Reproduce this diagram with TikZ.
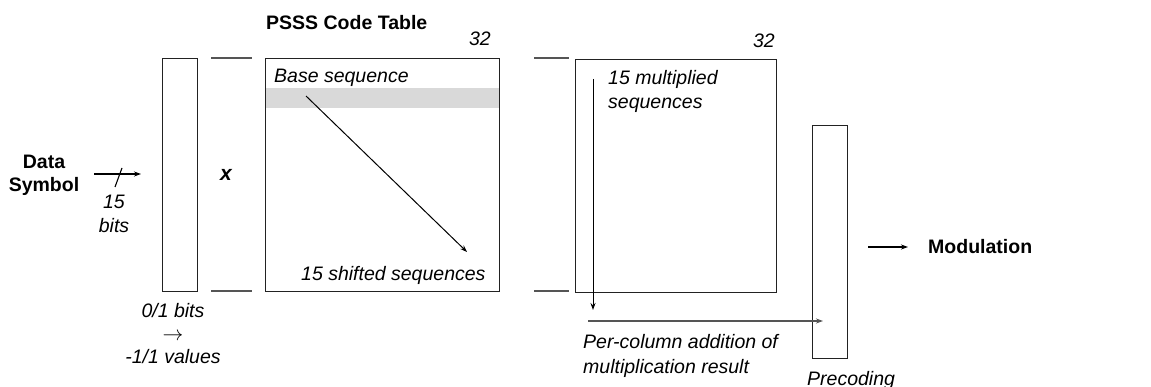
\documentclass[tikz,border=0pt]{standalone}
\usepackage{fontspec}
\setmainfont{Liberation Sans}
\usetikzlibrary{arrows.meta, positioning}
\tikzset{>={Stealth[length=7pt, width=5pt]}}
\definecolor{boxgray}{HTML}{222222}
\definecolor{linegray}{HTML}{555555}
\definecolor{bandgray}{HTML}{D9D9D9}

\begin{document}
\begin{tikzpicture}[x=1pt, y=-1pt,
	blk/.style={draw=boxgray, line width=1.2pt, inner sep=0pt, anchor=north west},
	brk/.style={draw=linegray, line width=1.4pt},
	lbl/.style={font=\fontsize{19.5}{24}\selectfont\itshape, align=left, inner sep=0pt},
	ttl/.style={font=\fontsize{19.5}{23}\selectfont\bfseries, align=center, inner sep=0pt}]
	\useasboundingbox (0,0) rectangle (1151,387);
	% boxes
	\fill [bandgray] (265,88) rectangle (499,108);
	\node [blk, minimum width=35pt, minimum height=233pt] (bits) at (162,58) {};
	\node [blk, minimum width=234pt, minimum height=233pt] (codetable) at (265,58) {};
	\node [blk, minimum width=201pt, minimum height=233pt] (multiplied) at (575,59) {};
	\node [blk, minimum width=35pt, minimum height=233pt] (precoding) at (812,125) {};
	\draw [brk] (211,58) -- (252,58);
	\draw [brk] (211,291) -- (252,291);
	\draw [brk] (534,58) -- (569,58);
	\draw [brk] (534,291) -- (569,291);
	% labels (multi-line ones sit on their last line)
	\node [ttl, anchor=base west] (title) at (266,30) {PSSS Code Table};
	\node [lbl, anchor=base east] (cols1) at (491,46) {32};
	\node [lbl, anchor=base east] (cols2) at (775,48) {32};
	\node [ttl, anchor=base] (data) at (44,192) {Data\\Symbol};
	\node [lbl, align=center, anchor=base] (nbits) at (114,233) {15\\bits};
	\node [ttl, anchor=base, font=\fontsize{21}{24}\selectfont\bfseries\itshape] (times) at (226,181) {x};
	\node [lbl, align=center, anchor=base, font=\fontsize{19.5}{23}\selectfont\itshape] (mapping) at (173,363) {0/1 bits\\$\rightarrow$\\-1/1 values};
	\node [lbl, anchor=base west] (base) at (274,83) {Base sequence};
	\node [lbl, anchor=base west] (shifted) at (301,281) {15 shifted sequences};
	\node [lbl, anchor=base west] (multlbl) at (608,109) {15 multiplied\\sequences};
	\node [lbl, anchor=base west, font=\fontsize{19.5}{25}\selectfont\itshape] (addlbl) at (583,373) {Per-column addition of\\multiplication result};
	\node [lbl, anchor=base west] (prelbl) at (807,385) {Precoding};
	\node [ttl, anchor=base west] (modulation) at (928,254) {Modulation};
	% connectors
	\coordinate (in1) at (94,174);
	\coordinate (in2) at (141,174);
	\coordinate (sh1) at (306,96);
	\coordinate (sh2) at (467,252);
	\coordinate (col1) at (593,79);
	\coordinate (col2) at (593,310);
	\coordinate (sum1) at (588,321);
	\coordinate (sum2) at (823,321);
	\coordinate (out1) at (868,247);
	\coordinate (out2) at (908,247);
	\draw [->, line width=1.1pt] (in1) -- (in2);
	\draw [line width=1.1pt] (122,168) -- (115,187);
	\draw [->, line width=1pt] (sh1) -- (sh2);
	\draw [->, line width=1pt] (col1) -- (col2);
	\draw [->, line width=1.4pt, linegray] (sum1) -- (sum2);
	\draw [->, line width=1.1pt] (out1) -- (out2);
\end{tikzpicture}
\end{document}
